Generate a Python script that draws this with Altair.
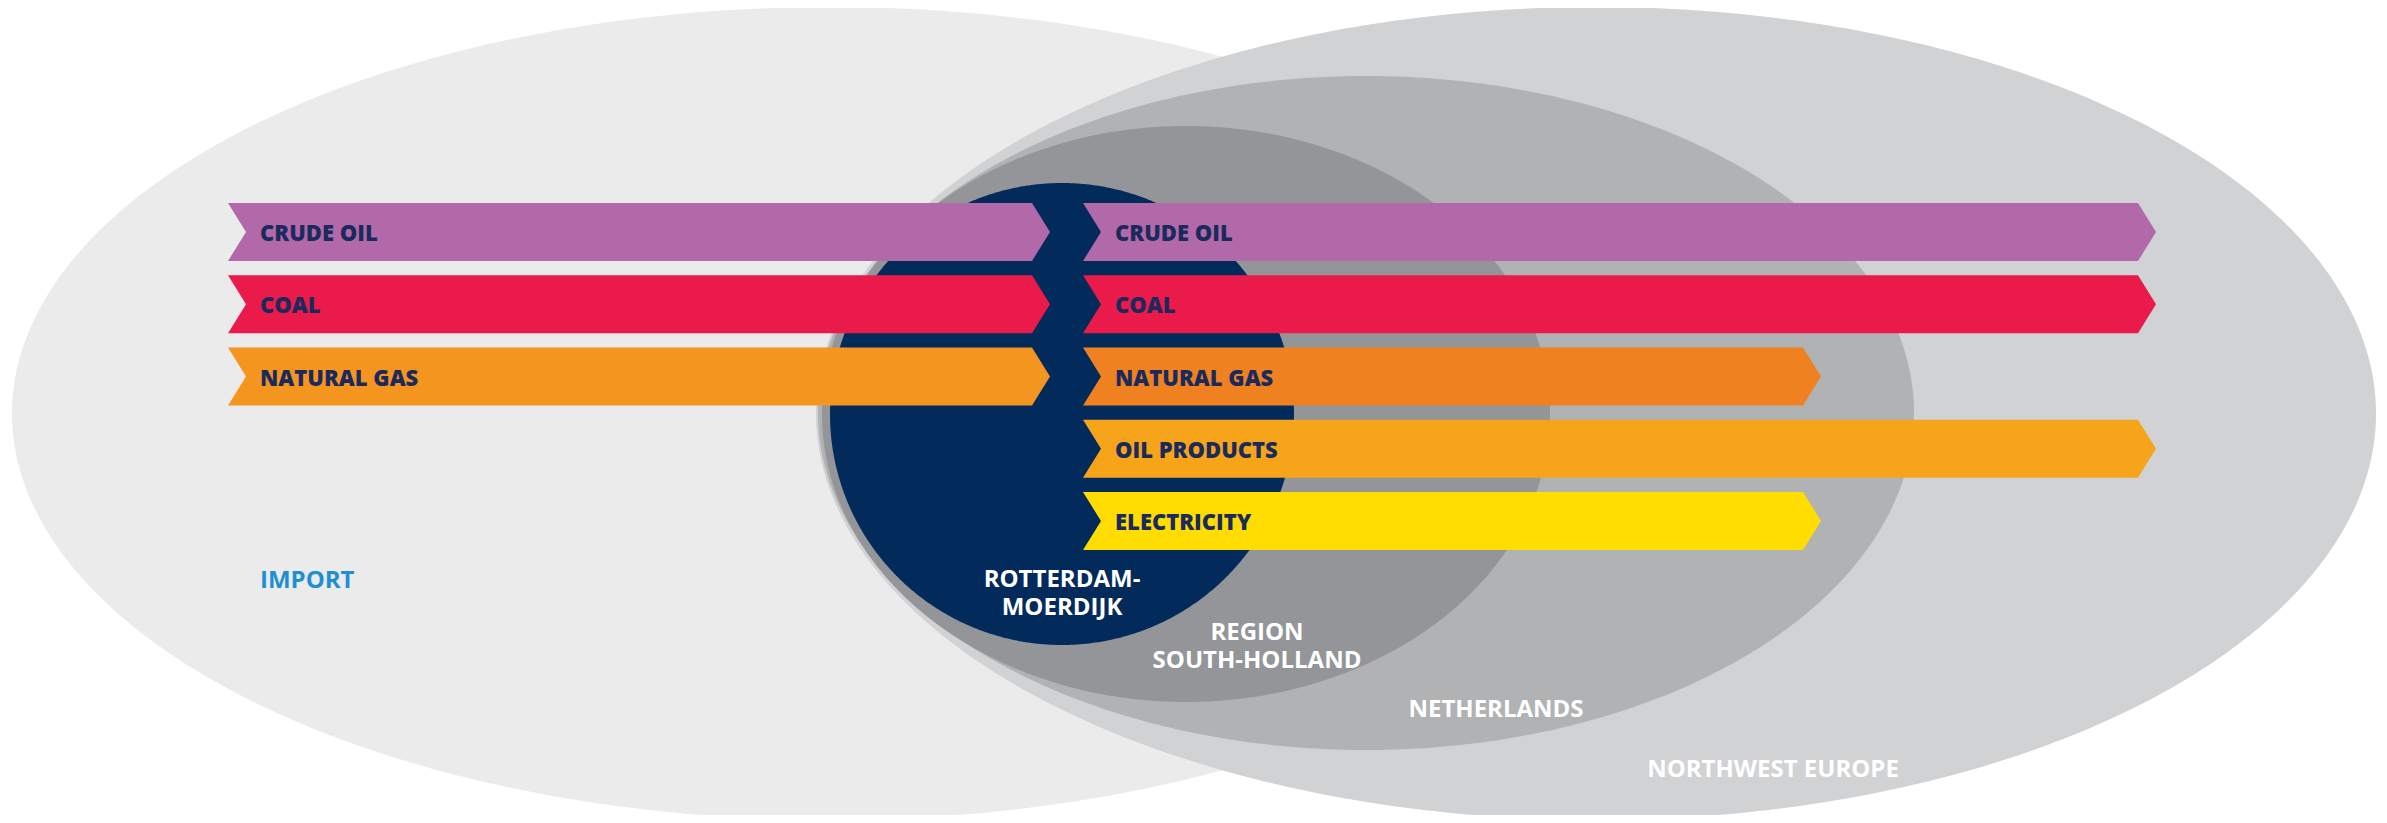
import altair as alt
import numpy as np
import pandas as pd

# ---------------- data ----------------
# nested regions (back to front)
region_names = ["IMPORT", "NORTHWEST EUROPE", "NETHERLANDS", "REGION SOUTH-HOLLAND", "ROTTERDAM-MOERDIJK"]
region_cx = [830, 1596, 1366, 1186, 1062]
region_cy = [413.5, 413.5, 413, 414, 414]
region_rx = [818, 780, 548, 364, 232]
region_ry = [406.5, 406.5, 337, 288, 231]
region_colors = ["#ebebeb", "#d1d2d4", "#b1b2b4", "#939598", "#022b5c"]

# energy flows
flow_names = ["CRUDE OIL", "COAL", "NATURAL GAS",
              "CRUDE OIL", "COAL", "NATURAL GAS", "OIL PRODUCTS", "ELECTRICITY"]
flow_row = [0, 1, 2, 0, 1, 2, 3, 4]
flow_start = [228, 228, 228, 1083, 1083, 1083, 1083, 1083]
flow_end = [1032, 1032, 1032, 2138, 2138, 1803, 2138, 1803]
flow_colors = ["#b169a9", "#ea1a4b", "#f4951f",
               "#b169a9", "#ea1a4b", "#f08121", "#f6a51b", "#ffdd00"]

row_top0 = 203
row_step = 72.25
row_height = 58
chevron = 18

# region labels
label_lines = ["IMPORT", "ROTTERDAM-\nMOERDIJK", "REGION\nSOUTH-HOLLAND", "NETHERLANDS", "NORTHWEST EUROPE"]
label_x = [260, 1062, 1257, 1496, 1773]
label_y = [588, 587, 640, 717, 777]
label_align = ["left", "center", "center", "center", "center"]
label_color = ["#1e90d2", "white", "white", "white", "white"]

# ---------------- build chart ----------------
xs = alt.Scale(domain=[8, 2379], nice=False, zero=False)
ys = alt.Scale(domain=[8, 815], nice=False, zero=False, reverse=True)

layers = []
t = np.linspace(np.pi, 0, 241)
for name, cx, cy, rx, ry, col in zip(region_names, region_cx, region_cy, region_rx, region_ry, region_colors):
    df = pd.DataFrame({
        "x": cx + rx * np.cos(t),
        "y": cy - ry * np.sin(t),
        "y2": cy + ry * np.sin(t),
        "region": name,
    })
    layers.append(
        alt.Chart(df).mark_area(color=col, clip=True, interpolate="linear").encode(
            x=alt.X("x:Q", scale=xs, axis=None),
            y=alt.Y("y:Q", scale=ys, axis=None, stack=None),
            y2="y2:Q",
        )
    )

for name, r, s, e, col in zip(flow_names, flow_row, flow_start, flow_end, flow_colors):
    top = row_top0 + r * row_step
    mid = top + row_height / 2
    bot = top + row_height
    df = pd.DataFrame({
        "y": [top, mid, bot],
        "xl": [s, s + chevron, s],
        "xr": [e, e + chevron, e],
        "name": name,
    })
    layers.append(
        alt.Chart(df).mark_area(orient="horizontal", color=col, clip=True, interpolate="linear").encode(
            y=alt.Y("y:Q", scale=ys, axis=None),
            x=alt.X("xl:Q", scale=xs, axis=None, stack=None),
            x2="xr:Q",
        )
    )

arrow_text = pd.DataFrame({
    "name": flow_names,
    "x": [s + chevron + 14 for s in flow_start],
    "y": [row_top0 + r * row_step + row_height / 2 + 9 for r in flow_row],
})
layers.append(
    alt.Chart(arrow_text).mark_text(
        align="left", baseline="alphabetic", font="Open Sans", fontWeight=800,
        fontSize=22, color="#1b2a5c"
    ).encode(
        x=alt.X("x:Q", scale=xs, axis=None),
        y=alt.Y("y:Q", scale=ys, axis=None),
        text="name:N",
    )
)

labels = pd.DataFrame({"text": label_lines, "x": label_x, "y": label_y,
                       "align": label_align, "color": label_color})
for al in ["left", "center"]:
    sub = labels[labels["align"] == al]
    layers.append(
        alt.Chart(sub).mark_text(
            align=al, baseline="alphabetic", font="Open Sans", fontWeight="bold",
            fontSize=24, lineBreak="\n", lineHeight=28
        ).encode(
            x=alt.X("x:Q", scale=xs, axis=None),
            y=alt.Y("y:Q", scale=ys, axis=None),
            text="text:N",
            color=alt.Color("color:N", scale=None, legend=None),
        )
    )

chart = alt.layer(*layers).properties(
    width=2371, height=807, padding=0, background="white"
).configure_view(stroke=None)

chart.save("out.html", embed_options={"renderer": "svg", "actions": False})
